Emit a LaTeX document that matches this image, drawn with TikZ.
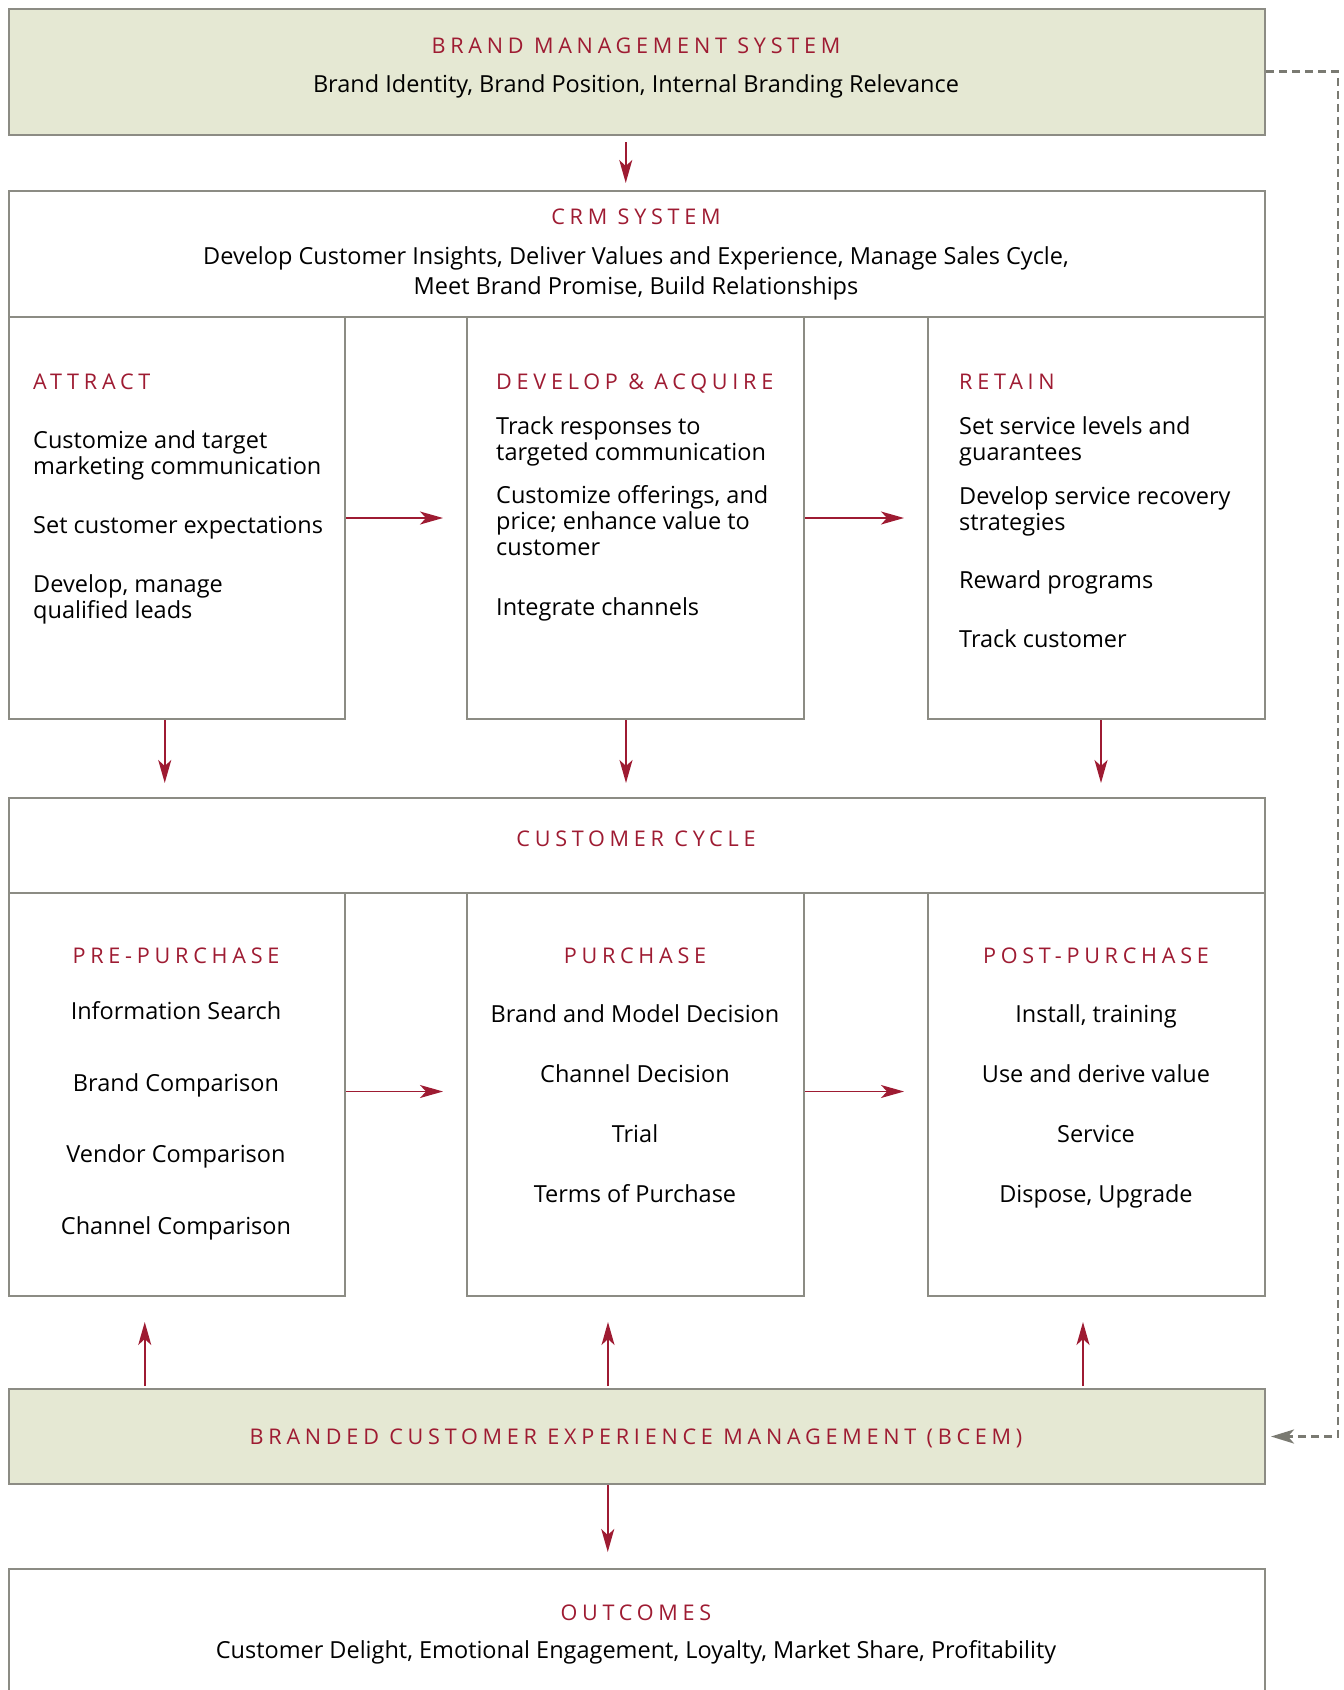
\documentclass[tikz,border=0pt]{standalone}
\usepackage{fontspec}
\setmainfont{Open Sans}
\newfontfamily\spacedfont[LetterSpace=22]{Open Sans}
\usetikzlibrary{arrows.meta}
\definecolor{brandred}{HTML}{9E1B32}
\definecolor{boxgray}{HTML}{8C8C84}
\definecolor{olivefill}{HTML}{E5E8D3}
\definecolor{dashgray}{HTML}{7A7A72}

\begin{document}
\begin{tikzpicture}[x=1pt,y=-1pt,
    box/.style={draw=boxgray,line width=2pt,inner sep=0pt,anchor=north west},
    greenbox/.style={box,fill=olivefill},
    title/.style={text=brandred,font={\spacedfont\fontsize{21.6}{25}\selectfont},inner sep=0pt,anchor=base},
    item/.style={font={\fontsize{23.5}{26}\selectfont},inner sep=0pt,anchor=base west,align=left},
    citem/.style={font={\fontsize{23.5}{26}\selectfont},inner sep=0pt,anchor=base,align=center},
    redarrow/.style={draw=brandred,line width=1.5pt,-{Stealth[length=23pt,width=13pt,inset=6pt]}},
    dashlink/.style={draw=dashgray,line width=2.8pt,dash pattern=on 8pt off 5pt,-{Stealth[length=23pt,width=14pt,inset=6pt]}}]

    \useasboundingbox (0,0) rectangle (1344,1690);

    % Brand management system
    \node[greenbox,minimum width=1256.5pt,minimum height=126.5pt] (bms) at (7.5,7.5) {};
    \node[title] (bmstitle) at (636,53) {BRAND MANAGEMENT SYSTEM};
    \node[citem] (bmstext) at (636,92) {Brand Identity, Brand Position, Internal Branding Relevance};

    % CRM system and its three columns
    \node[box,minimum width=1256.5pt,minimum height=126pt] (crm) at (7.5,190) {};
    \node[title] (crmtitle) at (636,224) {CRM SYSTEM};
    \node[citem,font={\fontsize{23.5}{30}\selectfont}] (crmtext) at (636,294) {Develop Customer Insights, Deliver Values and Experience, Manage Sales Cycle,\\Meet Brand Promise, Build Relationships};

    \node[box,minimum width=336.5pt,minimum height=402pt] (attract) at (7.5,316) {};
    \node[box,minimum width=337pt,minimum height=402pt] (develop) at (466,316) {};
    \node[box,minimum width=337pt,minimum height=402pt] (retain) at (927,316) {};

    \node[title,anchor=base west] (attracttitle) at (33,389) {ATTRACT};
    \node[item] (attract1) at (33,474) {Customize and target\\marketing communication};
    \node[item] (attract2) at (33,533) {Set customer expectations};
    \node[item] (attract3) at (33,618) {Develop, manage\\qualified leads};

    \node[title,anchor=base west] (developtitle) at (496,389) {DEVELOP \& ACQUIRE};
    \node[item] (develop1) at (496,460) {Track responses to\\targeted communication};
    \node[item] (develop2) at (496,555) {Customize offerings, and\\price; enhance value to\\customer};
    \node[item] (develop3) at (496,615) {Integrate channels};

    \node[title,anchor=base west] (retaintitle) at (959,389) {RETAIN};
    \node[item] (retain1) at (959,460) {Set service levels and\\guarantees};
    \node[item] (retain2) at (959,530) {Develop service recovery\\strategies};
    \node[item] (retain3) at (959,588) {Reward programs};
    \node[item] (retain4) at (959,647) {Track customer};

    % Customer cycle and its three columns
    \node[box,minimum width=1256.5pt,minimum height=95pt] (cycle) at (7.5,797) {};
    \node[title] (cycletitle) at (636,846) {CUSTOMER CYCLE};

    \node[box,minimum width=336.5pt,minimum height=403pt] (pre) at (7.5,892) {};
    \node[box,minimum width=337pt,minimum height=403pt] (purch) at (466,892) {};
    \node[box,minimum width=337pt,minimum height=403pt] (post) at (927,892) {};

    \node[title] (pretitle) at (176,963) {PRE-PURCHASE};
    \node[citem] (pre1) at (176,1019) {Information Search};
    \node[citem] (pre2) at (176,1091) {Brand Comparison};
    \node[citem] (pre3) at (176,1162) {Vendor Comparison};
    \node[citem] (pre4) at (176,1234) {Channel Comparison};

    \node[title] (purchtitle) at (635,963) {PURCHASE};
    \node[citem] (purch1) at (635,1022) {Brand and Model Decision};
    \node[citem] (purch2) at (635,1082) {Channel Decision};
    \node[citem] (purch3) at (635,1142) {Trial};
    \node[citem] (purch4) at (635,1202) {Terms of Purchase};

    \node[title] (posttitle) at (1096,963) {POST-PURCHASE};
    \node[citem] (post1) at (1096,1022) {Install, training};
    \node[citem] (post2) at (1096,1082) {Use and derive value};
    \node[citem] (post3) at (1096,1142) {Service};
    \node[citem] (post4) at (1096,1202) {Dispose, Upgrade};

    % BCEM and outcomes
    \node[greenbox,minimum width=1256.5pt,minimum height=95pt] (bcem) at (7.5,1388) {};
    \node[title] (bcemtitle) at (636,1444) {BRANDED CUSTOMER EXPERIENCE MANAGEMENT (BCEM)};

    \begin{scope}
        \clip (0,0) rectangle (1344,1690);
        \node[box,minimum width=1256.5pt,minimum height=160pt] (outcomes) at (7.5,1568) {};
    \end{scope}
    \node[title] (outcomestitle) at (636,1620) {OUTCOMES};
    \node[citem] (outcomestext) at (636,1658) {Customer Delight, Emotional Engagement, Loyalty, Market Share, Profitability};

    % Arrows between the boxes
    \draw[redarrow,shorten <=6pt,shorten >=7pt] ([xshift=-11pt]bms.south) -- ([xshift=-11pt]crm.north);
    \draw[redarrow,shorten >=23pt] (attract.east) -- (develop.west);
    \draw[redarrow,shorten >=23pt] (develop.east) -- (retain.west);
    \draw[redarrow,shorten >=14pt] ([xshift=-12pt]attract.south) -- ([xshift=-12pt]attract.south |- cycle.north);
    \draw[redarrow,shorten >=14pt] ([xshift=-9.5pt]develop.south) -- ([xshift=-9.5pt]develop.south |- cycle.north);
    \draw[redarrow,shorten >=14pt] ([xshift=4.5pt]retain.south) -- ([xshift=4.5pt]retain.south |- cycle.north);
    \draw[redarrow,shorten >=23pt] ([yshift=3pt]pre.east) -- ([yshift=3pt]purch.west);
    \draw[redarrow,shorten >=23pt] ([yshift=3pt]purch.east) -- ([yshift=3pt]post.west);
    \draw[redarrow,shorten <=2pt,shorten >=25pt] ([xshift=-32pt]pre.south |- bcem.north) -- ([xshift=-32pt]pre.south);
    \draw[redarrow,shorten <=2pt,shorten >=25pt] ([xshift=-27.5pt]purch.south |- bcem.north) -- ([xshift=-27.5pt]purch.south);
    \draw[redarrow,shorten <=2pt,shorten >=25pt] ([xshift=-13.5pt]post.south |- bcem.north) -- ([xshift=-13.5pt]post.south);
    \draw[redarrow,shorten >=16pt] ([xshift=-29pt]bcem.south) -- ([xshift=-29pt]bcem.south |- outcomes.north);

    % Dashed feedback loop
    \coordinate (loopcorner) at (1338,800);
    \draw[dashlink,shorten >=5pt] (bms.east) -| (loopcorner) |- (bcem.east);
\end{tikzpicture}
\end{document}
